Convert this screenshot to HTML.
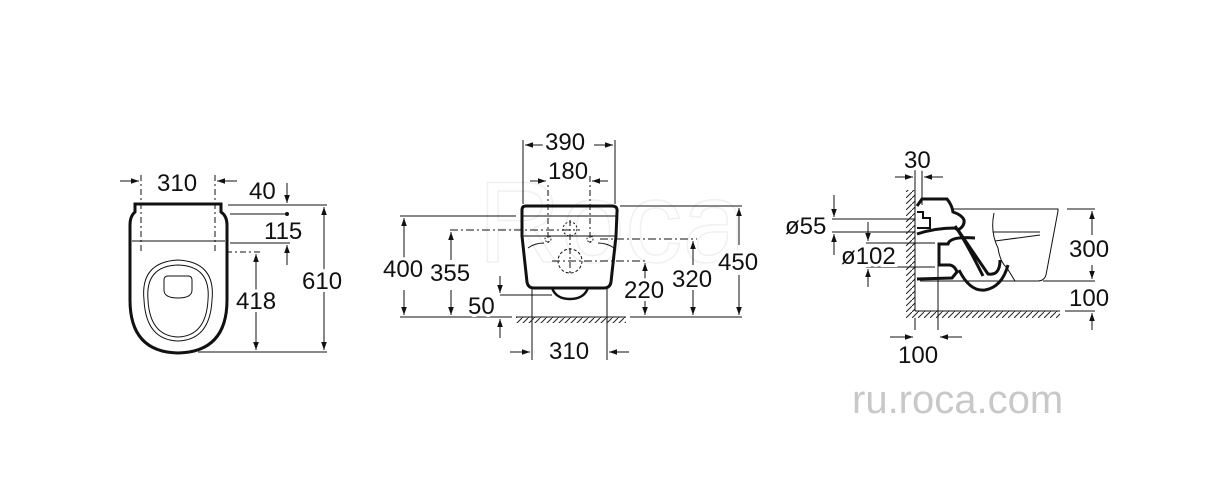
<!DOCTYPE html>
<html><head><style>
html,body{margin:0;padding:0;background:#fff;}
svg{display:block;}
text{font-family:"Liberation Sans",sans-serif;font-size:24px;fill:#111;}
.t{paint-order:stroke;stroke:#fff;stroke-width:6px;}
</style></head><body>
<svg width="1232" height="497" viewBox="0 0 1232 497" xmlns="http://www.w3.org/2000/svg">
<defs>
<marker id="a" viewBox="0 0 10 10" refX="10" refY="5" markerWidth="12" markerHeight="8" orient="auto-start-reverse" markerUnits="userSpaceOnUse"><path d="M0,1.5 L10,5 L0,8.5z" fill="#111"/></marker>
<pattern id="h" width="6" height="6" patternUnits="userSpaceOnUse"><path d="M0,6 L6,0" stroke="#222" stroke-width="1"/></pattern>
</defs>
<text x="478" y="262" style="font-size:115px;fill:none;stroke:#f0f0f0;stroke-width:1.5">Roca</text>
<g stroke="#111" fill="none" stroke-width="1">
<!-- Drawing 1 -->
<path d="M135,204 L221,204 L221,212 Q227,216 227,225 L227,300 Q227,352 178,353 Q130,352 130,300 L130,225 Q130,216 135,212 Z" stroke-width="3"/>
<line x1="132" y1="241" x2="225" y2="241"/>
<path d="M144,300 Q140,262 178,260 Q216,262 212,300 Q210,340 178,341 Q146,340 144,300Z"/>
<path d="M148,300 Q145,266 178,265 Q211,266 208,300 Q206,336 178,337 Q150,336 148,300Z"/>
<path d="M168,276 h20 q4,0 4,4 v10 q0,8 -14,8 q-14,0 -14,-8 v-10 q0,-4 4,-4z"/>
<line x1="141" y1="175" x2="141" y2="252" stroke-dasharray="6,3,2,3"/>
<line x1="215" y1="175" x2="215" y2="252" stroke-dasharray="6,3,2,3"/>
<line x1="120" y1="181" x2="139" y2="181" marker-end="url(#a)"/>
<line x1="237" y1="181" x2="217" y2="181" marker-end="url(#a)"/>
<line x1="228" y1="205" x2="327" y2="205"/>
<line x1="230" y1="214" x2="287" y2="214"/>
<circle cx="287" cy="214" r="1.5" fill="#111"/>
<line x1="230" y1="243" x2="290" y2="243"/>
<line x1="226" y1="252" x2="262" y2="252" stroke-dasharray="6,3,2,3"/>
<line x1="198" y1="352" x2="327" y2="352"/>
<line x1="287" y1="183" x2="287" y2="203" marker-end="url(#a)"/>
<line x1="287" y1="265" x2="287" y2="245" marker-end="url(#a)"/>
<line x1="324" y1="330" x2="324" y2="207" marker-end="url(#a)"/>
<line x1="324" y1="300" x2="324" y2="350" marker-end="url(#a)"/>
<line x1="256" y1="300" x2="256" y2="254" marker-end="url(#a)"/>
<line x1="256" y1="300" x2="256" y2="350" marker-end="url(#a)"/>
<!-- Drawing 2 -->
<path d="M526,206 L612,206 Q618,206 617,212 L616,236 L611,282 Q610,288 604,288 L534,288 Q528,288 527,282 L522,236 L522,210 Q522,206 526,206Z" stroke-width="3"/>
<path d="M552,288 Q556,299 570,299 Q584,299 588,288" stroke-width="2.5"/>
<line x1="523" y1="216" x2="616" y2="216"/>
<line x1="522" y1="236" x2="617" y2="236"/>
<path d="M528,248 Q535,243 544,243 M614,248 Q607,243 598,243"/>
<circle cx="570" cy="229" r="7" stroke-dasharray="2,2"/>
<circle cx="570" cy="261" r="12" stroke-dasharray="3,2"/>
<circle cx="548" cy="239" r="3" stroke-dasharray="1.5,1.5"/>
<circle cx="590" cy="239" r="3" stroke-dasharray="1.5,1.5"/>
<line x1="523" y1="140" x2="523" y2="204"/>
<line x1="615" y1="140" x2="615" y2="204"/>
<line x1="548" y1="176" x2="548" y2="243" stroke-dasharray="6,3,2,3"/>
<line x1="590" y1="176" x2="590" y2="243" stroke-dasharray="6,3,2,3"/>
<line x1="570" y1="220" x2="570" y2="275" stroke-dasharray="6,3,2,3"/>
<line x1="545" y1="145" x2="525" y2="145" marker-end="url(#a)"/>
<line x1="594" y1="145" x2="613" y2="145" marker-end="url(#a)"/>
<line x1="530" y1="181" x2="546" y2="181" marker-end="url(#a)"/>
<line x1="608" y1="181" x2="592" y2="181" marker-end="url(#a)"/>
<line x1="400" y1="216" x2="516" y2="216"/>
<line x1="450" y1="230" x2="580" y2="230" stroke-dasharray="8,3,2,3"/>
<line x1="600" y1="239" x2="697" y2="239" stroke-dasharray="8,3,2,3"/>
<line x1="552" y1="261" x2="648" y2="261" stroke-dasharray="8,3,2,3"/>
<line x1="620" y1="206" x2="742" y2="206"/>
<line x1="400" y1="317" x2="512" y2="317"/>
<line x1="630" y1="317" x2="742" y2="317"/>
<line x1="500" y1="295" x2="552" y2="295"/>
<line x1="532" y1="288" x2="532" y2="360"/>
<line x1="607" y1="288" x2="607" y2="360"/>
<rect x="516" y="317" width="110" height="6" fill="url(#h)" stroke="none"/>
<line x1="516" y1="317" x2="626" y2="317"/>
<line x1="404" y1="260" x2="404" y2="218" marker-end="url(#a)"/>
<line x1="404" y1="290" x2="404" y2="315" marker-end="url(#a)"/>
<line x1="451" y1="260" x2="451" y2="232" marker-end="url(#a)"/>
<line x1="451" y1="290" x2="451" y2="315" marker-end="url(#a)"/>
<line x1="500" y1="276" x2="500" y2="293" marker-end="url(#a)"/>
<line x1="500" y1="338" x2="500" y2="319" marker-end="url(#a)"/>
<line x1="645" y1="280" x2="645" y2="263" marker-end="url(#a)"/>
<line x1="645" y1="300" x2="645" y2="315" marker-end="url(#a)"/>
<line x1="693" y1="265" x2="693" y2="241" marker-end="url(#a)"/>
<line x1="693" y1="290" x2="693" y2="315" marker-end="url(#a)"/>
<line x1="739" y1="245" x2="739" y2="208" marker-end="url(#a)"/>
<line x1="739" y1="275" x2="739" y2="315" marker-end="url(#a)"/>
<line x1="510" y1="352" x2="530" y2="352" marker-end="url(#a)"/>
<line x1="629" y1="352" x2="609" y2="352" marker-end="url(#a)"/>
<!-- Drawing 3 -->
<rect x="906" y="190" width="9" height="121" fill="url(#h)" stroke="none"/>
<rect x="906" y="311" width="154" height="7" fill="url(#h)" stroke="none"/>
<line x1="915" y1="190" x2="915" y2="311"/>
<line x1="915" y1="311" x2="1060" y2="311"/>
<path d="M917,206 L922,199 L947,199 Q952,205 953,212 Q962,215 964,220 Q965,226 958,230 L955,228 Q935,228 917,234" stroke-width="3"/>
<path d="M917,212 L923,212 L923,218 L930,218 L930,228 L917,228" stroke-width="2"/>
<path d="M955,226 Q965,240 983,276 M958,230 L988,274 Q1000,276 1000,260" stroke-width="3"/>
<path d="M975,238 Q950,236 948,244 L939,244 L939,265 L950,265 Q955,266 957,272 L952,278 L917,279" stroke-width="3"/>
<path d="M959,270 Q970,292 985,290 Q1002,287 1008,265" stroke-width="3"/>
<path d="M952,209 L1058,209 L1058,211 L1046,275 Q1044,281 1038,281 L920,281"/>
<path d="M994,213 Q990,232 998,248 Q1000,262 1007,268 L1015,281"/>
<line x1="993" y1="232" x2="1040" y2="232"/>
<line x1="995" y1="241" x2="1040" y2="235"/>
<line x1="922" y1="160" x2="922" y2="205"/>
<line x1="915" y1="160" x2="915" y2="190"/>
<line x1="895" y1="177" x2="913" y2="177" marker-end="url(#a)"/>
<line x1="943" y1="177" x2="924" y2="177" marker-end="url(#a)"/>
<line x1="832" y1="219" x2="915" y2="219"/>
<line x1="832" y1="232" x2="915" y2="232"/>
<line x1="834" y1="195" x2="834" y2="217" marker-end="url(#a)"/>
<line x1="834" y1="255" x2="834" y2="234" marker-end="url(#a)"/>
<line x1="866" y1="243" x2="935" y2="243"/>
<line x1="866" y1="267" x2="935" y2="267"/>
<line x1="868" y1="222" x2="868" y2="241" marker-end="url(#a)"/>
<line x1="868" y1="287" x2="868" y2="269" marker-end="url(#a)"/>
<line x1="938" y1="244" x2="938" y2="330"/>
<line x1="915" y1="318" x2="915" y2="330"/>
<line x1="890" y1="337" x2="913" y2="337" marker-end="url(#a)"/>
<line x1="962" y1="337" x2="940" y2="337" marker-end="url(#a)"/>
<line x1="1067" y1="209" x2="1095" y2="209"/>
<line x1="1043" y1="281" x2="1095" y2="281"/>
<line x1="1065" y1="311" x2="1095" y2="311"/>
<line x1="1092" y1="235" x2="1092" y2="211" marker-end="url(#a)"/>
<line x1="1092" y1="265" x2="1092" y2="279" marker-end="url(#a)"/>
<line x1="1092" y1="330" x2="1092" y2="313" marker-end="url(#a)"/>
</g>
<g class="t">
<text x="157" y="191">310</text>
<text x="249" y="199">40</text>
<text x="264" y="239">115</text>
<text x="236" y="309">418</text>
<text x="302" y="289">610</text>
<text x="545" y="150">390</text>
<text x="548" y="179">180</text>
<text x="383" y="277">400</text>
<text x="430" y="281">355</text>
<text x="468" y="314">50</text>
<text x="624" y="298">220</text>
<text x="672" y="287">320</text>
<text x="718" y="270">450</text>
<text x="549" y="359">310</text>
<text x="904" y="168">30</text>
<text x="785" y="234">ø55</text>
<text x="841" y="264">ø102</text>
<text x="898" y="363">100</text>
<text x="1069" y="257">300</text>
<text x="1069" y="306">100</text>
</g>
<text x="852" y="413" style="font-size:40px;fill:#c8c8c8">ru.roca.com</text>
</svg>
</body></html>
